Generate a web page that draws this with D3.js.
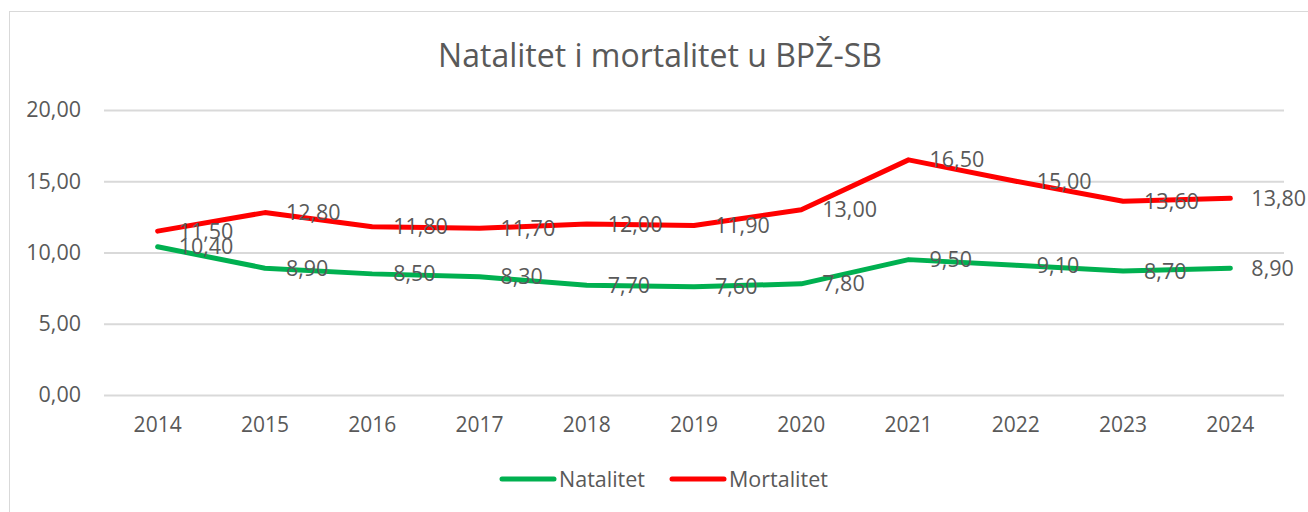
<!DOCTYPE html>
<html>
<head>
<meta charset="utf-8">
<script src="https://cdn.jsdelivr.net/npm/d3@7"></script>
<style>
  body { margin: 0; background: #fff; }
  text { font-family: "Open Sans", sans-serif; fill: #595959; }
</style>
</head>
<body>
<div id="chart"></div>
<script>
var years = ["2014","2015","2016","2017","2018","2019","2020","2021","2022","2023","2024"];
var natalitet = [10.40, 8.90, 8.50, 8.30, 7.70, 7.60, 7.80, 9.50, 9.10, 8.70, 8.90];
var mortalitet = [11.50, 12.80, 11.80, 11.70, 12.00, 11.90, 13.00, 16.50, 15.00, 13.60, 13.80];
var yTicks = [0, 5, 10, 15, 20];
var seriesNames = ["Natalitet", "Mortalitet"];
var seriesColors = ["#00B050", "#FF0000"];

var W = 1308, H = 512;
var margin = {top: 110, right: 24, bottom: 117, left: 104},
    width = W - margin.left - margin.right,
    height = H - margin.top - margin.bottom;

var fmt = function(v){ return d3.format(".2f")(v).replace(".", ","); };

var svgRoot = d3.select("#chart").append("svg")
    .attr("width", W).attr("height", H);

// chart area border (right/bottom fall outside the picture)
svgRoot.append("rect")
    .attr("x", 9.5).attr("y", 11.5)
    .attr("width", W + 20).attr("height", H + 20)
    .attr("fill", "none").attr("stroke", "#D9D9D9");

svgRoot.append("text")
    .attr("x", 660).attr("y", 67)
    .attr("text-anchor", "middle")
    .style("font-size", "32px")
    .text("Natalitet i mortalitet u BPŽ-SB");

var svg = svgRoot.append("g")
    .attr("transform", "translate(" + margin.left + "," + margin.top + ")");

var x = d3.scaleBand().domain(years).range([0, width]);
var y = d3.scaleLinear().domain([0, 20]).range([height, 0]);

svg.append("g")
    .call(d3.axisLeft(y).tickValues(yTicks).tickSize(-width).tickFormat(fmt))
    .call(g => g.select(".domain").remove())
    .call(g => g.selectAll(".tick line").attr("stroke", "#D9D9D9").attr("stroke-width", 2))
    .call(g => g.selectAll(".tick text").attr("x", -23).style("font-size", "21.5px").attr("fill", "#595959"));

svg.append("g")
    .attr("transform", "translate(0," + height + ")")
    .call(d3.axisBottom(x).tickSize(0))
    .call(g => g.select(".domain").remove())
    .call(g => g.selectAll(".tick text").attr("dy", null).attr("y", 37).style("font-size", "21px").attr("fill", "#595959"));

var series = [natalitet, mortalitet];
var line = d3.line()
    .x((d, i) => x(years[i]) + x.bandwidth() / 2)
    .y(d => y(d));

series.forEach(function(vals, s){
  svg.append("path")
      .datum(vals)
      .attr("fill", "none")
      .attr("stroke", seriesColors[s])
      .attr("stroke-width", 5)
      .attr("stroke-linejoin", "round")
      .attr("stroke-linecap", "round")
      .attr("d", line);
});

series.forEach(function(vals, s){
  svg.selectAll(".lbl" + s)
    .data(vals)
    .enter().append("text")
      .attr("x", (d, i) => x(years[i]) + x.bandwidth() / 2 + 21)
      .attr("y", d => y(d))
      .attr("dy", "0.35em")
      .style("font-size", "21.5px")
      .attr("fill", "#404040")
      .text(fmt);
});

// legend
var legendX = [500, 670];
seriesNames.forEach(function(n, i){
  var g = svgRoot.append("g").attr("transform", "translate(" + legendX[i] + ",479)");
  g.append("line").attr("x1", 2).attr("x2", 54)
      .attr("stroke", seriesColors[i]).attr("stroke-width", 5).attr("stroke-linecap", "round");
  g.append("text").attr("x", 59).attr("y", 7.5).style("font-size", "21.5px").text(n);
});
</script>
</body>
</html>
